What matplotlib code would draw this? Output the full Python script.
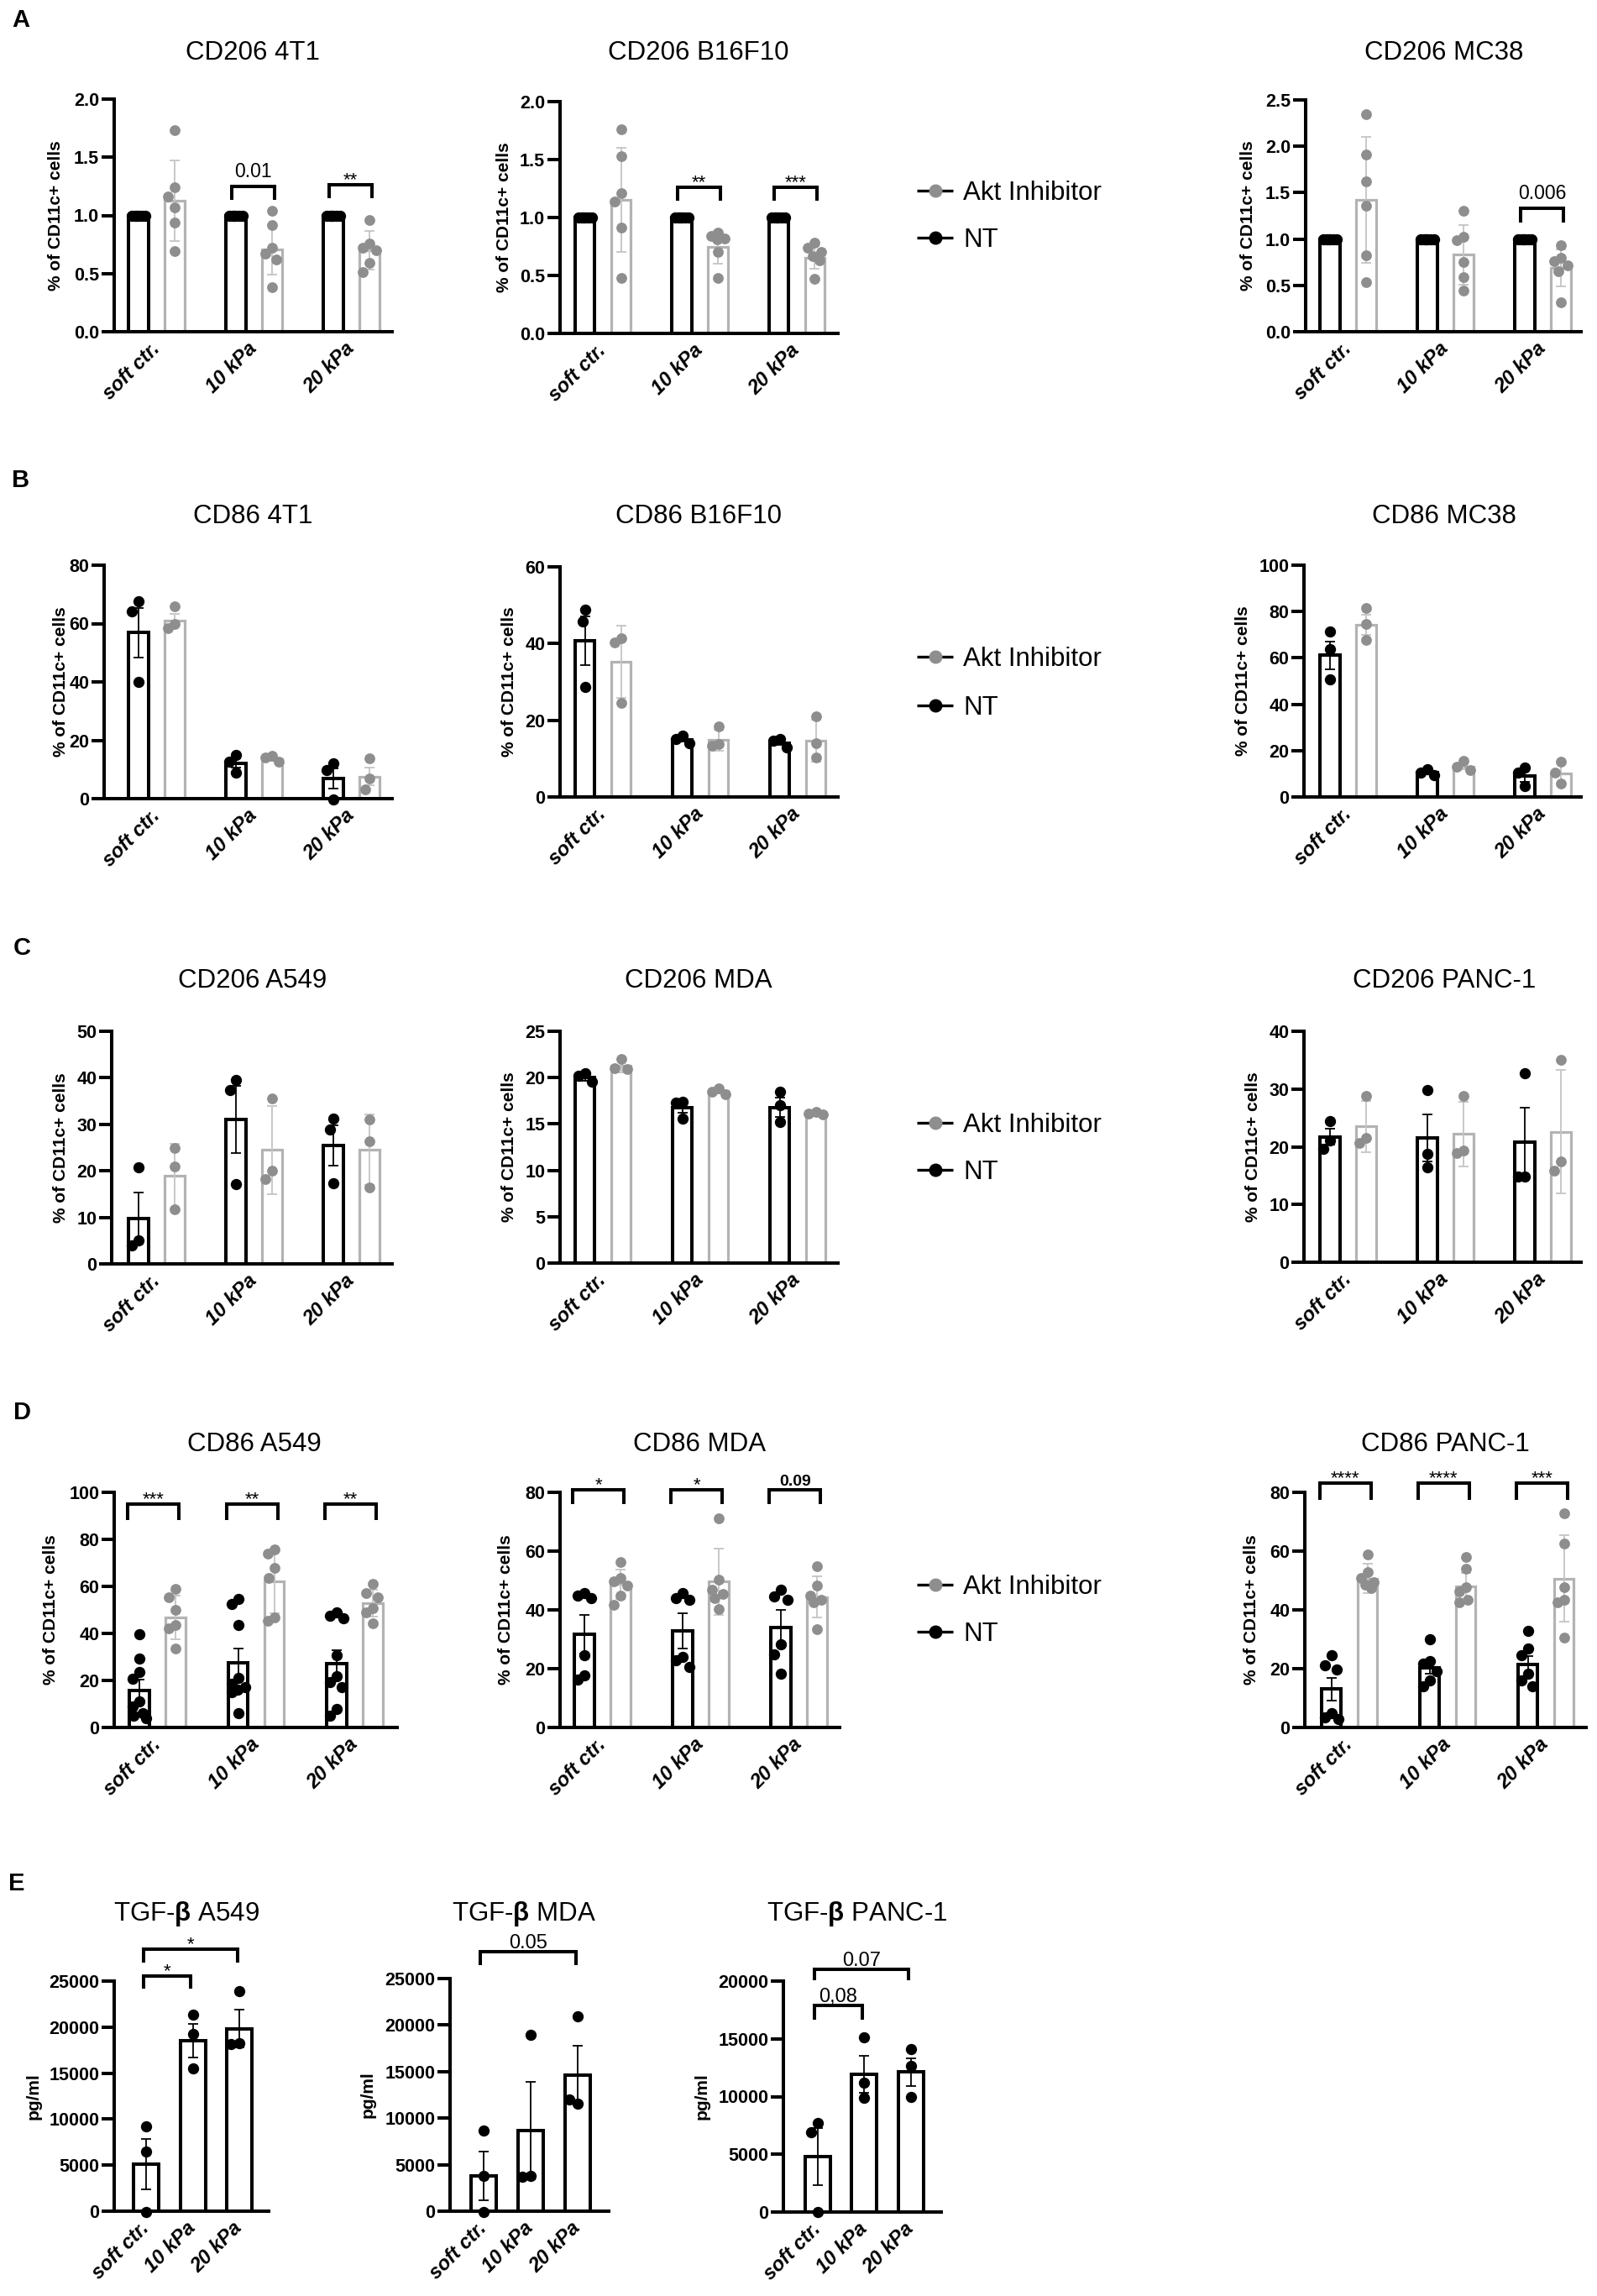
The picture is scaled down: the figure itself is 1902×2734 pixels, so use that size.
import numpy as np
import matplotlib
matplotlib.use("Agg")
import matplotlib.pyplot as plt

plt.rcParams['font.family'] = ['Liberation Sans', 'DejaVu Sans']
plt.rcParams['mathtext.fontset'] = 'custom'
plt.rcParams['mathtext.rm'] = 'Liberation Sans'
plt.rcParams['mathtext.bf'] = 'Liberation Sans:bold'
plt.rcParams['mathtext.it'] = 'Liberation Sans:italic'

# ---------------- DATA ----------------
CATS = ['soft ctr.', '10 kPa', '20 kPa']
YLAB = '% of CD11c+ cells'
YLAB_E = 'pg/ml'
LEG_AKT = 'Akt Inhibitor'
LEG_NT = 'NT'

# Row A (CD206, normalised)
A1_TITLE = 'CD206 4T1'
A1_NT_PTS = [[1, 1, 1, 1, 1, 1], [1, 1, 1, 1, 1, 1], [1, 1, 1, 1, 1, 1]]
A1_NT_MEAN = [1.0, 1.0, 1.0]
A1_NT_ERR = [0, 0, 0]
A1_AKT_PTS = [[1.73, 1.24, 1.16, 1.07, 0.94, 0.69], [1.04, 0.92, 0.72, 0.67, 0.62, 0.38], [0.96, 0.76, 0.72, 0.70, 0.59, 0.51]]
A1_AKT_MEAN = [1.125, 0.705, 0.70]
A1_AKT_ERR = [0.345, 0.215, 0.165]

A2_TITLE = 'CD206 B16F10'
A2_NT_PTS = [[1, 1, 1, 1, 1, 1], [1, 1, 1, 1, 1, 1], [1, 1, 1, 1, 1, 1]]
A2_NT_MEAN = [1.0, 1.0, 1.0]
A2_NT_ERR = [0, 0, 0]
A2_AKT_PTS = [[1.76, 1.53, 1.21, 1.14, 0.91, 0.48], [0.87, 0.84, 0.82, 0.81, 0.70, 0.48], [0.78, 0.74, 0.70, 0.67, 0.63, 0.47]]
A2_AKT_MEAN = [1.15, 0.745, 0.655]
A2_AKT_ERR = [0.45, 0.14, 0.10]

A3_TITLE = 'CD206 MC38'
A3_NT_PTS = [[1, 1, 1, 1, 1, 1], [1, 1, 1, 1, 1, 1], [1, 1, 1, 1, 1, 1]]
A3_NT_MEAN = [1.0, 1.0, 1.0]
A3_NT_ERR = [0, 0, 0]
A3_AKT_PTS = [[2.35, 1.91, 1.62, 1.36, 0.82, 0.53], [1.30, 1.02, 0.99, 0.755, 0.59, 0.44], [0.93, 0.80, 0.76, 0.72, 0.65, 0.32]]
A3_AKT_MEAN = [1.42, 0.83, 0.69]
A3_AKT_ERR = [0.68, 0.32, 0.20]

# Row B (CD86 murine)
B1_TITLE = 'CD86 4T1'
B1_NT_PTS = [[67.5, 64.1, 40.1], [15.1, 12.7, 8.8], [12.2, 9.8, -0.3]]
B1_NT_MEAN = [56.9, 12.2, 6.9]
B1_NT_ERR = [8.5, 1.5, 3.4]
B1_AKT_PTS = [[65.8, 59.8, 58.4], [14.6, 14.1, 12.7], [13.7, 6.9, 3.1]]
B1_AKT_MEAN = [61.1, 13.5, 7.6]
B1_AKT_ERR = [2.2, 0.6, 3.1]

B2_TITLE = 'CD86 B16F10'
B2_NT_PTS = [[48.8, 45.8, 28.6], [16.0, 15.2, 14.1], [15.2, 14.6, 13.0]]
B2_NT_MEAN = [40.7, 15.0, 14.1]
B2_NT_ERR = [6.3, 0.6, 0.6]
B2_AKT_PTS = [[41.4, 40.3, 24.6], [18.4, 13.7, 13.3], [21.0, 14.0, 10.3]]
B2_AKT_MEAN = [35.2, 14.8, 14.7]
B2_AKT_ERR = [9.4, 2.7, 5.4]

B3_TITLE = 'CD86 MC38'
B3_NT_PTS = [[71.4, 63.6, 50.6], [12.0, 10.6, 9.4], [12.8, 10.6, 4.6]]
B3_NT_MEAN = [61.2, 10.6, 9.2]
B3_NT_ERR = [6.0, 0.8, 2.5]
B3_AKT_PTS = [[81.7, 74.7, 67.8], [15.5, 13.0, 11.5], [15.1, 10.6, 5.8]]
B3_AKT_MEAN = [74.3, 13.2, 10.3]
B3_AKT_ERR = [4.3, 1.2, 4.5]

# Row C (CD206 human)
C1_TITLE = 'CD206 A549'
C1_NT_PTS = [[20.7, 5.1, 3.9], [39.5, 37.3, 17.1], [31.25, 28.8, 17.4]]
C1_NT_MEAN = [9.8, 31.1, 25.5]
C1_NT_ERR = [5.5, 7.2, 4.3]
C1_AKT_PTS = [[24.9, 21.0, 11.7], [35.6, 20.1, 18.3], [31.1, 26.4, 16.5]]
C1_AKT_MEAN = [18.9, 24.5, 24.5]
C1_AKT_ERR = [6.9, 9.5, 7.6]

C2_TITLE = 'CD206 MDA'
C2_NT_PTS = [[20.5, 20.2, 19.6], [17.4, 17.3, 15.6], [18.5, 17.0, 15.2]]
C2_NT_MEAN = [20.0, 16.75, 16.8]
C2_NT_ERR = [0.3, 0.55, 1.0]
C2_AKT_PTS = [[22.0, 21.0, 20.9], [18.8, 18.5, 18.2], [16.3, 16.1, 16.0]]
C2_AKT_MEAN = [21.3, 18.6, 16.1]
C2_AKT_ERR = [0.7, 0.3, 0.15]

C3_TITLE = 'CD206 PANC-1'
C3_NT_PTS = [[24.5, 21.1, 19.6], [29.8, 18.7, 16.5], [32.7, 14.8, 14.8]]
C3_NT_MEAN = [21.7, 21.5, 20.8]
C3_NT_ERR = [1.4, 4.1, 6.0]
C3_AKT_PTS = [[28.8, 21.6, 20.6], [28.8, 19.4, 18.9], [35.0, 17.5, 15.8]]
C3_AKT_MEAN = [23.5, 22.2, 22.6]
C3_AKT_ERR = [4.5, 5.6, 10.7]

# Row D (CD86 human)
D1_TITLE = 'CD86 A549'
D1_NT_PTS = [[39.5, 29.4, 23.7, 20.7, 11.0, 8.8, 6.2, 5.0, 3.8],
             [54.5, 52.5, 43.5, 21.0, 18.5, 17.0, 16.0, 15.0, 6.0],
             [48.8, 47.5, 46.5, 30.6, 21.7, 19.3, 17.1, 8.0, 5.0]]
D1_NT_MEAN = [15.7, 27.4, 27.2]
D1_NT_ERR = [4.6, 6.2, 5.6]
D1_AKT_PTS = [[59.0, 55.5, 50.0, 43.5, 42.0, 33.5], [75.8, 74.0, 68.0, 63.5, 46.9, 45.5], [61.0, 57.1, 55.4, 50.8, 49.0, 44.3]]
D1_AKT_MEAN = [46.8, 62.2, 52.9]
D1_AKT_ERR = [9.2, 13.8, 5.7]

D2_TITLE = 'CD86 MDA'
D2_NT_PTS = [[45.7, 45.0, 44.0, 24.5, 17.8, 16.4], [45.7, 44.0, 43.5, 24.0, 23.0, 20.7], [46.9, 44.5, 43.5, 28.3, 25.0, 18.3]]
D2_NT_MEAN = [31.7, 33.0, 34.0]
D2_NT_ERR = [6.5, 6.0, 6.0]
D2_AKT_PTS = [[56.4, 50.9, 49.7, 48.3, 45.0, 41.6], [71.1, 50.2, 46.9, 45.4, 44.0, 40.2], [54.9, 48.3, 44.9, 43.4, 42.5, 33.4]]
D2_AKT_MEAN = [48.8, 49.6, 44.3]
D2_AKT_ERR = [5.0, 11.2, 7.0]

D3_TITLE = 'CD86 PANC-1'
D3_NT_PTS = [[24.5, 21.1, 19.7, 5.0, 3.5, 3.0], [29.9, 22.6, 21.6, 19.2, 15.9, 14.0], [33.0, 26.9, 24.5, 18.3, 15.9, 14.0]]
D3_NT_MEAN = [13.05, 20.4, 21.3]
D3_NT_ERR = [3.95, 2.0, 3.1]
D3_AKT_PTS = [[59.0, 53.0, 51.0, 49.5, 48.5, 47.5], [58.0, 54.0, 47.8, 46.4, 43.5, 42.6], [72.8, 62.6, 47.8, 43.5, 42.5, 30.7]]
D3_AKT_MEAN = [50.7, 48.0, 50.7]
D3_AKT_ERR = [5.0, 4.6, 14.7]

# Row E (TGF-beta ELISA, NT only)
E1_TITLE = r'TGF-$\mathbf{\beta}$ A549'
E1_PTS = [[9240, 6500, -60], [21370, 19210, 15490], [23870, 18230, 18170]]
E1_MEAN = [5120, 18540, 19820]
E1_ERR = [2750, 1830, 2070]

E2_TITLE = r'TGF-$\mathbf{\beta}$ MDA'
E2_PTS = [[8650, 3760, -50], [18990, 3760, 3670], [20940, 11570, 12020]]
E2_MEAN = [3820, 8650, 14660]
E2_ERR = [2630, 5230, 3130]

E3_TITLE = r'TGF-$\mathbf{\beta}$ PANC-1'
E3_PTS = [[7740, 6890, -30], [15150, 11210, 9880], [14080, 12670, 10000]]
E3_MEAN = [4780, 11940, 12110]
E3_ERR = [2480, 1600, 1200]

# significance annotations: (group/from, to, line y, leg y, label)
A1_SIG = [(1, 1, 1.25, 1.13, '0.01'), (2, 2, 1.265, 1.148, '**')]
A2_SIG = [(1, 1, 1.26, 1.145, '**'), (2, 2, 1.26, 1.145, '***')]
A3_SIG = [(2, 2, 1.33, 1.18, '0.006')]
D1_SIG = [(0, 0, 95, 88.2, '***'), (1, 1, 95, 88.2, '**'), (2, 2, 95, 88.2, '**')]
D2_SIG = [(0, 0, 80.9, 76, '*'), (1, 1, 80.9, 76, '*'), (2, 2, 80.9, 76, '0.09')]
D3_SIG = [(0, 0, 83.1, 77.4, '****'), (1, 1, 83.1, 77.4, '****'), (2, 2, 83.1, 77.4, '***')]
E1_SIG = [(0, 1, 25550, 24180, '*'), (0, 2, 28470, 27000, '*')]
E2_SIG = [(0, 2, 27890, 26440, '0.05')]
E3_SIG = [(0, 2, 21020, 20070, '0.07'), (0, 1, 17890, 16660, '0,08')]

# ---------------- STYLE / LAYOUT ----------------
W, H = 1902, 2734
BLACK = '#000000'
G_DOT = '#8e8e8e'
G_BAR = '#b3b3b3'
G_ERR = '#c4c4c4'

fig = plt.figure(figsize=(W / 100, H / 100), dpi=100)
ov = fig.add_axes([0, 0, 1, 1])
ov.set_xlim(0, W)
ov.set_ylim(H, 0)
ov.axis('off')


def make_axes(left, right, top, bottom, c0, sp, ymax, ystep, fmt):
    ax = fig.add_axes([left / W, 1 - bottom / H, (right - left) / W, (bottom - top) / H])
    ax.patch.set_alpha(0)
    ax.set_xlim((left - c0) / sp, (right - c0) / sp)
    ax.set_ylim(0, ymax)
    for s in ['top', 'right']:
        ax.spines[s].set_visible(False)
    for s in ['left', 'bottom']:
        ax.spines[s].set_linewidth(2.9)
    ticks = np.arange(0, ymax + ystep / 2, ystep)
    ax.set_yticks(ticks)
    ax.set_yticklabels([fmt % t for t in ticks], fontsize=15.5, fontweight='bold')
    ax.tick_params(axis='y', length=10.8, width=2.9, pad=2)
    ax.set_xticks([0, 1, 2])
    ax.set_xticklabels(CATS, rotation=45, ha='right', va='center', rotation_mode='anchor',
                       fontsize=17, fontweight='bold', fontstyle='italic')
    ax.tick_params(axis='x', length=0, pad=12)
    return ax


def swarm(vals, ypx, xpx, limit, D=14.0):
    placed = []
    offs = []
    cands = [0] + [s * k for k in range(1, int(limit) + 1) for s in (-1, 1)]
    for v in vals:
        y = v * ypx
        best, bestd = 0, -1.0
        for c in cands:
            if not placed:
                d = 1e9
            else:
                d = min(np.hypot(c - px, y - py) for px, py in placed)
            if d >= D:
                best = c
                break
            if d > bestd:
                bestd, best = d, c
        placed.append((best, y))
        offs.append(best / xpx)
    return np.array(offs)


def draw_series(ax, xs, pts, mean, err, bw, edge, lw, ecol, dcol, ypx, xpx, limit, s):
    ax.bar(xs, mean, width=bw, facecolor='white', edgecolor=edge, linewidth=lw, zorder=2)
    if any(e > 0 for e in err):
        ax.errorbar(xs, mean, yerr=err, fmt='none', ecolor=ecol, elinewidth=1.3,
                    capsize=4.6, capthick=1.3, zorder=3, clip_on=False)
    for x, p in zip(xs, pts):
        o = swarm(p, ypx, xpx, limit)
        ax.scatter(x + o, p, s=s, color=dcol, linewidths=0, zorder=4, clip_on=False)


def bracket(ax, x1, x2, y, yleg, label, fs, off_pt, weight='normal'):
    ax.plot([x1, x1, x2, x2], [yleg, y, y, yleg], color=BLACK, lw=2.9, clip_on=False,
            solid_joinstyle='miter', solid_capstyle='butt', zorder=5)
    ax.annotate(label, xy=((x1 + x2) / 2, y), xytext=(0, off_pt), textcoords='offset points',
                ha='center', va='baseline', fontsize=fs, fontweight=weight, annotation_clip=False)


# layout: name -> (left, right, top, bottom, c0, sp, ymax, ystep, fmt, title_x, ylab_x)
TWO = [
    ('A1', (136, 467, 118, 395, 186.5, 116, 2.0, 0.5, '%.1f', 301, 67)),
    ('A2', (667, 998, 121, 397, 718, 115.5, 2.0, 0.5, '%.1f', 832, 600)),
    ('A3', (1555, 1883, 119, 395, 1605.5, 116, 2.5, 0.5, '%.1f', 1720, 1486)),
    ('B1', (124, 467, 673, 951, 186.5, 116, 80, 20, '%d', 301, 73)),
    ('B2', (667, 998, 675, 949, 718, 116, 60, 20, '%d', 832, 606)),
    ('B3', (1553, 1883, 673, 949, 1605.5, 116, 100, 20, '%d', 1720, 1480)),
    ('C1', (133, 467, 1228, 1505, 186.5, 116, 50, 10, '%d', 301, 73)),
    ('C2', (667, 998, 1228, 1504, 718, 116, 25, 5, '%d', 832, 606)),
    ('C3', (1553, 1883, 1228, 1503, 1605.5, 116, 40, 10, '%d', 1720, 1493)),
    ('D1', (136, 473, 1777, 2057, 187.5, 117.5, 100, 20, '%d', 303, 61)),
    ('D2', (667, 1000, 1777, 2057, 717.5, 117, 80, 20, '%d', 833, 603)),
    ('D3', (1554, 1889, 1777, 2057, 1607, 117, 80, 20, '%d', 1721, 1491)),
]
ROW_TITLE_Y = {'A': 71, 'B': 623, 'C': 1176, 'D': 1728}
DATA = {
    'A1': (A1_TITLE, A1_NT_PTS, A1_NT_MEAN, A1_NT_ERR, A1_AKT_PTS, A1_AKT_MEAN, A1_AKT_ERR, A1_SIG),
    'A2': (A2_TITLE, A2_NT_PTS, A2_NT_MEAN, A2_NT_ERR, A2_AKT_PTS, A2_AKT_MEAN, A2_AKT_ERR, A2_SIG),
    'A3': (A3_TITLE, A3_NT_PTS, A3_NT_MEAN, A3_NT_ERR, A3_AKT_PTS, A3_AKT_MEAN, A3_AKT_ERR, A3_SIG),
    'B1': (B1_TITLE, B1_NT_PTS, B1_NT_MEAN, B1_NT_ERR, B1_AKT_PTS, B1_AKT_MEAN, B1_AKT_ERR, []),
    'B2': (B2_TITLE, B2_NT_PTS, B2_NT_MEAN, B2_NT_ERR, B2_AKT_PTS, B2_AKT_MEAN, B2_AKT_ERR, []),
    'B3': (B3_TITLE, B3_NT_PTS, B3_NT_MEAN, B3_NT_ERR, B3_AKT_PTS, B3_AKT_MEAN, B3_AKT_ERR, []),
    'C1': (C1_TITLE, C1_NT_PTS, C1_NT_MEAN, C1_NT_ERR, C1_AKT_PTS, C1_AKT_MEAN, C1_AKT_ERR, []),
    'C2': (C2_TITLE, C2_NT_PTS, C2_NT_MEAN, C2_NT_ERR, C2_AKT_PTS, C2_AKT_MEAN, C2_AKT_ERR, []),
    'C3': (C3_TITLE, C3_NT_PTS, C3_NT_MEAN, C3_NT_ERR, C3_AKT_PTS, C3_AKT_MEAN, C3_AKT_ERR, []),
    'D1': (D1_TITLE, D1_NT_PTS, D1_NT_MEAN, D1_NT_ERR, D1_AKT_PTS, D1_AKT_MEAN, D1_AKT_ERR, D1_SIG),
    'D2': (D2_TITLE, D2_NT_PTS, D2_NT_MEAN, D2_NT_ERR, D2_AKT_PTS, D2_AKT_MEAN, D2_AKT_ERR, D2_SIG),
    'D3': (D3_TITLE, D3_NT_PTS, D3_NT_MEAN, D3_NT_ERR, D3_AKT_PTS, D3_AKT_MEAN, D3_AKT_ERR, D3_SIG),
}

for name, lay in TWO:
    left, right, top, bottom, c0, sp, ymax, ystep, fmt, tx, lx = lay
    title, ntp, ntm, nte, akp, akm, ake, sig = DATA[name]
    ax = make_axes(left, right, top, bottom, c0, sp, ymax, ystep, fmt)
    ypx = (bottom - top) / ymax
    bw = 23.5 / sp
    off = 21.5 / sp
    g = np.arange(3)
    draw_series(ax, g - off, ntp, ntm, nte, bw, BLACK, 2.9, BLACK, BLACK, ypx, sp, 8, 92)
    draw_series(ax, g + off, akp, akm, ake, bw, G_BAR, 2.3, G_ERR, G_DOT, ypx, sp, 8, 85)
    row = name[0]
    for (i, j, y, yl, lab) in sig:
        if row == 'A':
            x1, x2 = i - 0.23, i + 0.21
        else:
            x1, x2 = i - 0.30, i + 0.22
        if lab.startswith('*'):
            bracket(ax, x1, x2, y, yl, lab, 16, 0)
        elif row == 'A':
            bracket(ax, x1, x2, y, yl, lab, 16.5, 8)
        else:
            bracket(ax, x1, x2, y, yl, lab, 14, 3.6, 'bold')
    ov.text(tx, ROW_TITLE_Y[row], title, fontsize=22.5, ha='center', va='baseline')
    ov.text(lx, (top + bottom) / 2, YLAB, fontsize=15, fontweight='bold', rotation=90,
            ha='center', va='center')

# Row E
E_LAY = [
    ((136, 320, 2359, 2633, 174, 55.5, 25000, 5000), E1_TITLE, E1_PTS, E1_MEAN, E1_ERR, E1_SIG, 222, 40),
    ((536, 725, 2356, 2633, 575.5, 56.3, 25000, 5000), E2_TITLE, E2_PTS, E2_MEAN, E2_ERR, E2_SIG, 624, 438),
    ((933, 1121, 2359, 2634, 973.5, 55.5, 20000, 5000), E3_TITLE, E3_PTS, E3_MEAN, E3_ERR, E3_SIG, 1021, 836),
]
for lay, title, pts, mean, err, sig, tx, lx in E_LAY:
    left, right, top, bottom, c0, sp, ymax, ystep = lay
    ax = make_axes(left, right, top, bottom, c0, sp, ymax, ystep, '%d')
    ypx = (bottom - top) / ymax
    bw = 30.0 / sp
    draw_series(ax, np.arange(3), pts, mean, err, bw, BLACK, 2.9, BLACK, BLACK, ypx, sp, 10, 92)
    for (i, j, y, yl, lab) in sig:
        x1, x2 = i - 0.06, j - 0.04
        if lab.startswith('*'):
            bracket(ax, x1, x2, y, yl, lab, 16, 0)
        else:
            bracket(ax, x1, x2, y, yl, lab, 17, 3)
    ov.text(tx, 2287, title, fontsize=22.5, ha='center', va='baseline')
    ov.text(lx, (top + bottom) / 2, YLAB_E, fontsize=15, fontweight='bold', rotation=90,
            ha='center', va='center')

# legends (one per row A-D)
for ya, yn in [(227, 283), (782, 840), (1337, 1393), (1887, 1943)]:
    for y, lab, col in [(ya, LEG_AKT, G_DOT), (yn, LEG_NT, BLACK)]:
        ov.plot([1092, 1135], [y, y], color=BLACK, lw=2.4, solid_capstyle='butt')
        ov.plot([1113.5], [y], 'o', ms=10.5, mfc=col, mec=col)
        ov.text(1147, y + 11, lab, fontsize=22.5, ha='left', va='baseline')

# panel letters
for lab, x, y in [('A', 14, 32), ('B', 14, 580), ('C', 16, 1137), ('D', 16, 1690), ('E', 10, 2251)]:
    ov.text(x, y, lab, fontsize=21, fontweight='bold', ha='left', va='baseline')

fig.savefig('out.png', dpi=100)
